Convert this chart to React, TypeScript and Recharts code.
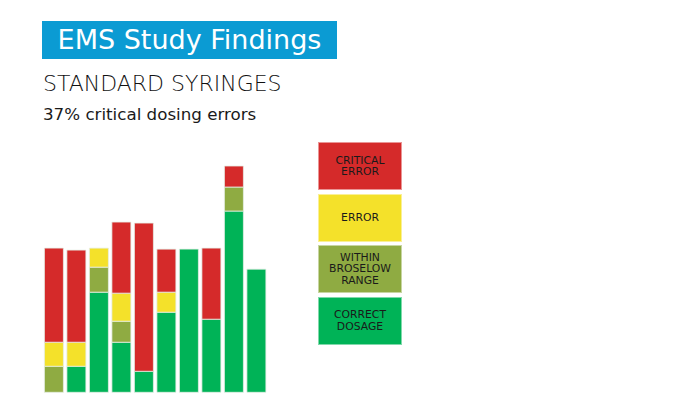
import { BarChart, Bar, XAxis, YAxis, Legend } from 'recharts';

// pixel-ish units, stacked bottom to top
const runs = ['1', '2', '3', '4', '5', '6', '7', '8', '9', '10'];
const correct = [0, 26, 100, 50, 21, 80, 143, 73, 181, 123];
const within = [26, 0, 25, 21, 0, 0, 0, 0, 24, 0];
const error = [24, 24, 19, 28, 0, 20, 0, 0, 0, 0];
const critical = [94, 92, 0, 71, 148, 43, 0, 71, 21, 0];

const legendItems = [
    { key: 'critical', lines: ['CRITICAL', 'ERROR'], color: '#d52a2a' },
    { key: 'error', lines: ['ERROR'], color: '#f4e12a' },
    { key: 'within', lines: ['WITHIN', 'BROSELOW', 'RANGE'], color: '#8fab42' },
    { key: 'correct', lines: ['CORRECT', 'DOSAGE'], color: '#00b357' },
];

const data = runs.map((run, i) => ({
    run,
    correct: correct[i],
    within: within[i],
    error: error[i],
    critical: critical[i],
}));

const font = "'DejaVu Sans', sans-serif";

function LegendBoxes() {
    return (
        <div style={{ display: 'flex', flexDirection: 'column', gap: 3.5 }}>
            {legendItems.map((item) => (
                <div
                    key={item.key}
                    style={{
                        width: 84,
                        height: 48,
                        background: item.color,
                        display: 'flex',
                        flexDirection: 'column',
                        justifyContent: 'center',
                        alignItems: 'center',
                        fontFamily: font,
                        fontSize: 10.8,
                        lineHeight: '11.5px',
                        color: '#1a1a1a',
                        boxSizing: 'border-box',
                        border: '1px solid rgba(255,255,255,0.5)',
                    }}
                >
                    {item.lines.map((l) => (
                        <span key={l}>{l}</span>
                    ))}
                </div>
            ))}
        </div>
    );
}

export default function App() {
    return (
        <div
            style={{
                position: 'absolute',
                left: 0,
                top: 0,
                width: 700,
                height: 412,
                background: '#fff',
                fontFamily: font,
            }}
        >
            <div
                style={{
                    position: 'absolute',
                    left: 42,
                    top: 21,
                    width: 295,
                    height: 38,
                    background: '#0b9bd3',
                    color: '#fff',
                    fontSize: 27,
                    lineHeight: '38px',
                    textAlign: 'center',
                    whiteSpace: 'nowrap',
                }}
            >
                EMS Study Findings
            </div>
            <div
                style={{
                    position: 'absolute',
                    left: 43,
                    top: 71,
                    fontSize: 22,
                    fontWeight: 300,
                    color: '#111',
                    whiteSpace: 'nowrap',
                }}
            >
                STANDARD SYRINGES
            </div>
            <div
                style={{
                    position: 'absolute',
                    left: 43,
                    top: 104,
                    fontSize: 16.7,
                    color: '#1a1a1a',
                    whiteSpace: 'nowrap',
                }}
            >
                37% critical dosing errors
            </div>
            <div style={{ position: 'absolute', left: 0, top: 0 }}>
                <BarChart
                    width={420}
                    height={412}
                    data={data}
                    margin={{ top: 166, right: 152.6, bottom: 19.7, left: 42.4 }}
                    barSize={19}
                >
                    <XAxis dataKey="run" hide />
                    <YAxis hide domain={[0, 226]} />
                    <Legend
                        layout="vertical"
                        align="center"
                        verticalAlign="middle"
                        content={() => <LegendBoxes />}
                        wrapperStyle={{ left: 318, top: 142, width: 84 }}
                    />
                    <Bar dataKey="correct" stackId="a" fill="#00b357" stroke="#e6efe6" strokeWidth={0.8} isAnimationActive={false} />
                    <Bar dataKey="within" stackId="a" fill="#8fab42" stroke="#e6efe6" strokeWidth={0.8} isAnimationActive={false} />
                    <Bar dataKey="error" stackId="a" fill="#f4e12a" stroke="#e6efe6" strokeWidth={0.8} isAnimationActive={false} />
                    <Bar dataKey="critical" stackId="a" fill="#d52a2a" stroke="#e6efe6" strokeWidth={0.8} isAnimationActive={false} />
                </BarChart>
            </div>
        </div>
    );
}
